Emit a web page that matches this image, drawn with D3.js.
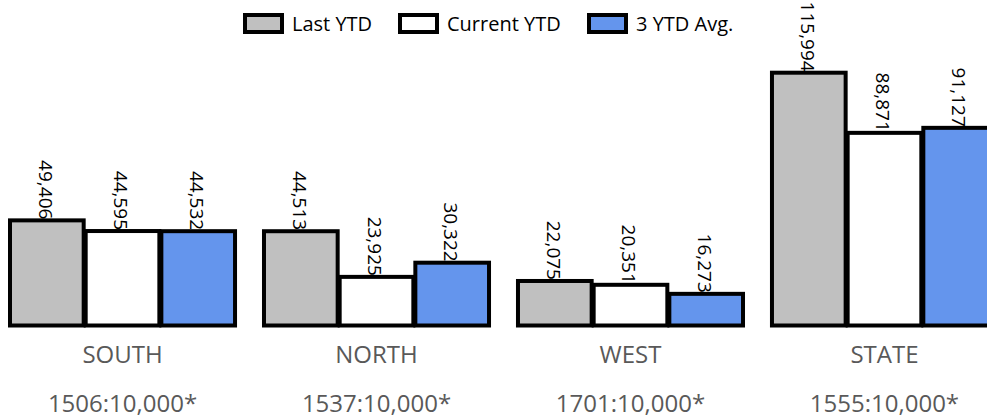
<!DOCTYPE html>
<html>
<head>
<meta charset="utf-8">
<script src="https://cdn.jsdelivr.net/npm/d3@7"></script>
<style>
  body { margin: 0; background: #fff; overflow: hidden; }
  svg { display: block; font-family: "Open Sans", "Noto Sans", sans-serif; }
</style>
</head>
<body>
<div id="chart"></div>
<script>
const regions = ["SOUTH", "NORTH", "WEST", "STATE"];
const ratios = ["1506:10,000*", "1537:10,000*", "1701:10,000*", "1555:10,000*"];
const seriesNames = ["Last YTD", "Current YTD", "3 YTD Avg."];
const seriesColors = ["#c0c0c0", "#ffffff", "#6495ed"];
const lastYtd = [49406, 44513, 22075, 115994];
const currentYtd = [44595, 23925, 20351, 88871];
const avgYtd = [44532, 30322, 16273, 91127];

const width = 987;
const height = 420;
const baseline = 325.5;

const svg = d3.select("#chart").append("svg")
  .attr("width", width)
  .attr("height", height);

// group and bar positions
const x0 = d3.scaleBand()
  .domain(regions)
  .range([10, 997])
  .paddingInner(0.114);

const x1 = d3.scaleBand()
  .domain(seriesNames)
  .range([0, x0.bandwidth() + 2]);

const y = d3.scaleLinear()
  .domain([2000, 115994])
  .range([baseline, 72.7]);

const rows = regions.map((r, i) => ({
  region: r,
  values: [lastYtd[i], currentYtd[i], avgYtd[i]]
}));

const groups = svg.selectAll(".group")
  .data(rows)
  .join("g")
  .attr("class", "group")
  .attr("transform", d => `translate(${x0(d.region)},0)`);

groups.selectAll("rect")
  .data(d => d.values.map((v, j) => ({ key: seriesNames[j], value: v, color: seriesColors[j] })))
  .join("rect")
  .attr("x", d => x1(d.key))
  .attr("y", d => y(d.value))
  .attr("width", x1.bandwidth() - 2)
  .attr("height", d => baseline - y(d.value))
  .style("fill", d => d.color)
  .style("stroke", "#000")
  .style("stroke-width", 4);

// rotated value labels
groups.selectAll(".val")
  .data(d => d.values.map((v, j) => ({ key: seriesNames[j], value: v })))
  .join("text")
  .attr("class", "val")
  .attr("transform", d => `translate(${x1(d.key) + (x1.bandwidth() - 2) / 2 - 1.5},${y(d.value) - 1}) rotate(90)`)
  .attr("dy", "0.35em")
  .style("text-anchor", "end")
  .style("font-size", "19px")
  .style("fill", "#000")
  .text(d => d3.format(",")(d.value));

// category and ratio labels
svg.selectAll(".cat")
  .data(regions)
  .join("text")
  .attr("class", "cat")
  .attr("x", d => x0(d) + x0.bandwidth() / 2)
  .attr("y", 363)
  .style("text-anchor", "middle")
  .style("font-size", "24px")
  .style("fill", "#595959")
  .text(d => d);

svg.selectAll(".ratio")
  .data(ratios)
  .join("text")
  .attr("class", "ratio")
  .attr("x", (d, i) => x0(regions[i]) + x0.bandwidth() / 2)
  .attr("y", 412)
  .style("text-anchor", "middle")
  .style("font-size", "24px")
  .style("fill", "#595959")
  .text(d => d);

// legend
const legendX = [245, 400, 589];
const legend = svg.selectAll(".legend")
  .data(seriesNames)
  .join("g")
  .attr("class", "legend")
  .attr("transform", (d, i) => `translate(${legendX[i]},15)`);

legend.append("rect")
  .attr("width", 37)
  .attr("height", 17)
  .style("fill", (d, i) => seriesColors[i])
  .style("stroke", "#000")
  .style("stroke-width", 4);

legend.append("text")
  .attr("x", 47)
  .attr("y", 8.5)
  .attr("dy", "0.35em")
  .style("font-size", "20px")
  .style("fill", "#000")
  .text(d => d);
</script>
</body>
</html>
